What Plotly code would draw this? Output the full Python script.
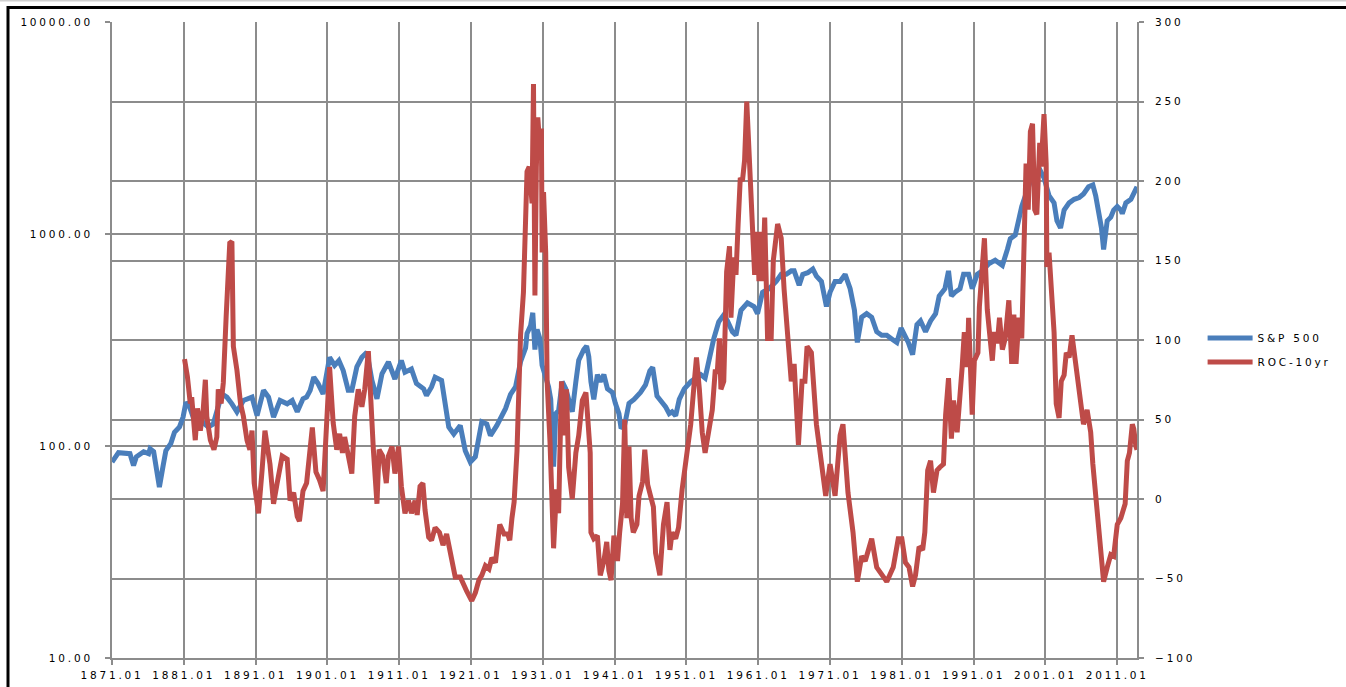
import plotly.graph_objects as go

# ---- data ----
sp_years = [1871.0, 1871.9, 1873.5, 1874.0, 1874.4, 1875.4, 1876.1, 1876.3, 1876.8, 1877.6,
            1878.1, 1878.5, 1879.2, 1879.7, 1880.4, 1880.9, 1881.3, 1881.8, 1882.3, 1883.3,
            1884.4, 1885.1, 1886.3, 1887.0, 1887.7, 1888.4, 1889.3, 1890.5, 1891.2, 1892.1,
            1892.8, 1893.5, 1894.4, 1895.4, 1896.1, 1896.8, 1897.6, 1898.1, 1898.6, 1899.1,
            1899.7, 1900.4, 1901.3, 1902.0, 1902.6, 1903.2, 1903.9, 1904.4, 1905.1, 1905.8,
            1906.5, 1907.2, 1907.9, 1908.6, 1909.5, 1910.4, 1911.3, 1911.8, 1912.7, 1913.4,
            1914.4, 1914.8, 1915.5, 1916.0, 1916.9, 1917.9, 1918.6, 1919.5, 1920.2, 1920.9,
            1921.6, 1922.5, 1923.2, 1923.7, 1924.6, 1925.1, 1925.8, 1926.5, 1927.2, 1927.9,
            1928.6, 1928.8, 1929.3, 1929.6, 1929.9, 1930.2, 1930.6, 1930.9, 1931.4, 1931.8,
            1932.1, 1932.5, 1932.8, 1933.2, 1933.7, 1934.2, 1934.6, 1935.1, 1935.6, 1936.0,
            1936.7, 1937.1, 1937.4, 1937.7, 1938.1, 1938.6, 1939.0, 1939.5, 1940.0, 1940.7,
            1941.1, 1941.6, 1941.9, 1942.4, 1943.0, 1943.7, 1944.6, 1945.3, 1945.9, 1946.3,
            1946.6, 1946.9, 1947.7, 1948.1, 1948.6, 1949.0, 1949.5, 1950.0, 1950.7, 1951.6,
            1952.3, 1953.0, 1953.6, 1954.1, 1954.8, 1955.5, 1956.2, 1956.7, 1957.4, 1957.9,
            1958.6, 1959.5, 1960.4, 1960.9, 1961.6, 1962.5, 1963.5, 1964.2, 1964.9, 1965.6,
            1966.0, 1966.7, 1967.2, 1967.9, 1968.6, 1969.1, 1969.8, 1970.5, 1971.0, 1971.7,
            1972.4, 1973.1, 1973.8, 1974.4, 1974.8, 1975.4, 1976.1, 1976.8, 1977.5, 1978.2,
            1978.9, 1979.6, 1980.3, 1980.9, 1981.5, 1981.9, 1982.5, 1983.1, 1983.6, 1984.3,
            1985.0, 1985.7, 1986.2, 1986.6, 1987.0, 1987.5, 1987.9, 1988.4, 1989.1, 1989.6,
            1990.3, 1990.8, 1991.5, 1992.2, 1993.1, 1994.0, 1995.0, 1995.7, 1996.1, 1996.8,
            1997.3, 1997.7, 1998.2, 1998.9, 1999.6, 2000.3, 2000.8, 2001.5, 2002.2, 2002.6,
            2003.1, 2003.6, 2004.3, 2005.0, 2005.7, 2006.3, 2007.0, 2007.6, 2008.0, 2008.4,
            2008.8, 2009.1, 2009.6, 2010.1, 2010.5, 2011.0, 2011.5, 2011.7, 2012.2, 2012.9,
            2013.3, 2013.75]
sp_values = [84, 93, 92, 81, 89, 94, 92, 97, 94, 64,
             80, 95, 103, 116, 123, 137, 161, 153, 137, 132,
             123, 127, 176, 170, 158, 145, 164, 170, 139, 183,
             170, 137, 164, 158, 164, 145, 167, 170, 183, 211,
             197, 176, 262, 240, 253, 227, 183, 183, 236, 262,
             277, 204, 167, 219, 249, 207, 253, 223, 231, 197,
             186, 173, 190, 211, 204, 123, 114, 125, 95, 84,
             89, 130, 127, 112, 125, 134, 150, 175, 190, 250,
             290, 340, 370, 425, 285, 355, 320, 240, 214, 190,
             166, 80, 142, 147, 201, 186, 166, 145, 201, 254,
             285, 296, 264, 201, 166, 217, 201, 217, 186, 179,
             159, 142, 121, 126, 159, 166, 179, 194, 226, 235,
             201, 172, 159, 153, 142, 145, 139, 166, 186, 201,
             209, 217, 209, 254, 320, 385, 415, 390, 346, 333,
             437, 473, 455, 421, 531, 552, 597, 645, 645, 670,
             670, 574, 645, 657, 684, 633, 597, 455, 531, 597,
             597, 645, 552, 437, 308, 405, 421, 405, 346, 333,
             333, 320, 308, 360, 330, 308, 270, 374, 389, 346,
             389, 421, 510, 531, 552, 670, 510, 531, 552, 645,
             645, 552, 645, 670, 724, 753, 711, 846, 950, 988,
             1200, 1349, 1515, 1770, 1841, 1988, 1841, 1515, 1402, 1154,
             1068, 1297, 1402, 1458, 1486, 1545, 1671, 1703, 1515, 1297,
             1068, 846, 1154, 1200, 1297, 1349, 1297, 1247, 1402, 1458,
             1574, 1671]

roc_years = [1881.1, 1881.5, 1881.9, 1882.1, 1882.6, 1882.9, 1883.3, 1883.7, 1884.0, 1884.2,
             1884.7, 1885.2, 1885.6, 1885.8, 1886.2, 1886.5, 1886.9, 1887.4, 1887.7, 1887.9,
             1888.4, 1888.9, 1889.3, 1889.8, 1890.2, 1890.5, 1890.8, 1891.4, 1891.9, 1892.3,
             1893.0, 1893.5, 1894.0, 1894.7, 1895.4, 1895.8, 1896.3, 1896.8, 1897.1, 1897.6,
             1898.1, 1898.5, 1898.9, 1899.4, 1899.9, 1900.4, 1900.9, 1901.3, 1901.8, 1902.3,
             1902.7, 1903.1, 1903.4, 1903.9, 1904.4, 1904.8, 1905.3, 1905.8, 1906.2, 1906.7,
             1907.0, 1907.4, 1907.9, 1908.2, 1908.7, 1909.2, 1909.5, 1910.0, 1910.4, 1910.9,
             1911.3, 1911.8, 1912.3, 1912.7, 1913.2, 1913.5, 1913.9, 1914.3, 1914.6, 1915.1,
             1915.5, 1916.0, 1916.6, 1917.1, 1917.6, 1918.3, 1918.8, 1919.5, 1920.0, 1920.4,
             1921.1, 1921.6, 1922.1, 1922.5, 1923.0, 1923.5, 1923.9, 1924.4, 1925.0, 1925.6,
             1926.1, 1926.4, 1926.7, 1927.0, 1927.4, 1927.9, 1928.3, 1928.6, 1928.8, 1929.1,
             1929.5, 1929.7, 1929.8, 1929.9, 1930.1, 1930.3, 1930.6, 1930.8, 1930.9, 1931.1,
             1931.4, 1931.6, 1932.0, 1932.3, 1932.5, 1932.9, 1933.2, 1933.6, 1933.9, 1934.3,
             1934.6, 1935.1, 1935.6, 1936.0, 1936.5, 1937.0, 1937.3, 1937.6, 1937.7, 1938.1,
             1938.6, 1939.0, 1939.5, 1939.9, 1940.2, 1940.5, 1940.9, 1941.4, 1941.7, 1942.1,
             1942.4, 1942.7, 1943.0, 1943.3, 1943.6, 1944.1, 1944.4, 1944.9, 1945.2, 1945.6,
             1946.0, 1946.4, 1946.7, 1947.0, 1947.3, 1947.8, 1948.3, 1948.7, 1949.0, 1949.5,
             1949.9, 1950.4, 1951.1, 1951.6, 1952.1, 1952.4, 1952.8, 1953.2, 1953.6, 1954.2,
             1954.6, 1955.0, 1955.3, 1955.6, 1955.8, 1956.2, 1956.6, 1957.0, 1957.2, 1957.6,
             1957.9, 1958.2, 1958.5, 1958.8, 1959.1, 1959.4, 1959.9, 1960.2, 1960.5, 1960.9,
             1961.1, 1961.4, 1961.6, 1961.9, 1962.3, 1962.8, 1963.1, 1963.7, 1964.2, 1964.6,
             1965.2, 1965.6, 1966.0, 1966.3, 1966.6, 1967.1, 1967.5, 1967.8, 1968.4, 1969.1,
             1969.8, 1970.4, 1971.0, 1971.7, 1972.4, 1972.8, 1973.5, 1974.2, 1974.8, 1975.4,
             1975.9, 1976.8, 1977.5, 1978.4, 1978.9, 1979.8, 1980.5, 1981.0, 1981.5, 1982.0,
             1982.5, 1982.9, 1983.4, 1983.9, 1984.2, 1984.6, 1985.0, 1985.4, 1985.9, 1986.3,
             1986.8, 1987.1, 1987.5, 1987.9, 1988.2, 1988.7, 1989.0, 1989.4, 1989.7, 1990.1,
             1990.3, 1990.5, 1990.8, 1991.1, 1991.6, 1991.8, 1992.2, 1992.5, 1992.9, 1993.2,
             1993.6, 1993.9, 1994.3, 1994.6, 1995.0, 1995.4, 1995.9, 1996.3, 1996.6, 1996.9,
             1997.3, 1997.7, 1998.0, 1998.3, 1998.6, 1998.9, 1999.2, 1999.5, 1999.8, 2000.2,
             2000.4, 2000.8, 2001.1, 2001.2, 2001.5, 2001.8, 2002.2, 2002.5, 2002.9, 2003.2,
             2003.6, 2003.9, 2004.3, 2004.7, 2005.1, 2005.6, 2006.0, 2006.3, 2006.8, 2007.3,
             2007.6, 2008.0, 2008.4, 2008.8, 2009.1, 2009.6, 2010.1, 2010.5, 2011.0, 2011.5,
             2012.1, 2012.4, 2012.7, 2013.1, 2013.3, 2013.6, 2013.75]
roc_values = [88, 77, 60, 64, 37, 57, 43, 56, 75, 52,
              37, 31, 39, 69, 60, 73, 115, 161, 162, 96,
              81, 60, 52, 37, 31, 43, 10, -9, 18, 43,
              22, -3, 10, 27, 25, -1, 4, -11, -14, 5,
              10, 25, 45, 17, 12, 5, 58, 83, 48, 31,
              41, 29, 39, 27, 16, 52, 69, 58, 69, 93,
              58, 31, -3, 31, 27, 10, 27, 33, 16, 33,
              8, -9, -1, -9, -1, -10, 8, 10, -7, -24,
              -26, -18, -21, -29, -22, -36, -49, -49, -55, -58,
              -64, -59, -51, -48, -42, -44, -37, -40, -16, -22,
              -22, -26, -12, -2, 30, 103, 130, 170, 206, 209,
              186, 261, 209, 128, 209, 240, 220, 233, 155, 193,
              155, 74, 36, 6, -31, 6, -9, 74, 40, 69,
              20, 0, 29, 40, 62, 67, 51, 29, -21, -25,
              -23, -48, -39, -27, -45, -51, -23, -39, -21, -3,
              50, -12, 33, -12, -21, -16, 2, 11, 31, 9,
              2, -5, -34, -43, -48, -16, -2, -32, -21, -25,
              -18, 6, 27, 47, 74, 89, 69, 42, 29, 44,
              56, 80, 80, 101, 69, 74, 143, 159, 114, 152,
              141, 173, 202, 200, 213, 250, 197, 164, 141, 168,
              137, 168, 137, 177, 101, 101, 150, 173, 164, 132,
              101, 74, 85, 51, 34, 74, 74, 96, 92, 47,
              24, 2, 22, 2, 40, 47, 4, -21, -52, -36,
              -39, -25, -43, -48, -52, -43, -25, -25, -40, -43,
              -55, -48, -30, -32, -21, 18, 24, 4, 18, 20,
              22, 53, 76, 38, 62, 42, 65, 83, 105, 83,
              114, 87, 53, 87, 92, 121, 150, 164, 119, 101,
              87, 105, 98, 114, 94, 101, 125, 85, 116, 85,
              114, 101, 150, 211, 182, 231, 236, 182, 179, 224,
              209, 242, 211, 146, 155, 130, 105, 60, 51, 74,
              78, 92, 89, 103, 89, 67, 58, 47, 56, 42,
              22, 0, -16, -43, -52, -43, -35, -36, -16, -12,
              -3, 24, 29, 47, 44, 33, 31]

x_tick_years = [1871, 1881, 1891, 1901, 1911, 1921, 1931, 1941, 1951, 1961, 1971, 1981, 1991, 2001, 2011]
x_tick_labels = [f"{y}.01" for y in x_tick_years]
left_ticks = [10, 100, 1000, 10000]
left_tick_labels = ["10.00", "100.00", "1000.00", "10000.00"]
right_ticks = [-100, -50, 0, 50, 100, 150, 200, 250, 300]

BLUE = "#4a7ebb"
RED = "#be4b48"
GRID = "#8c8c8c"
FONT = dict(family="DejaVu Sans", size=10.5, color="#000000")

fig = go.Figure()
fig.add_trace(go.Scatter(x=sp_years, y=sp_values, name="S&P 500", mode="lines",
                         legendgroup="a",
                         line=dict(color=BLUE, width=5), yaxis="y"))
fig.add_trace(go.Scatter(x=roc_years, y=roc_values, name="ROC-10yr", mode="lines",
                         legendgroup="b",
                         line=dict(color=RED, width=5), yaxis="y2"))

axis_common = dict(showgrid=True, gridcolor=GRID, gridwidth=2,
                   showline=True, linecolor=GRID, linewidth=2,
                   ticks="outside", ticklen=5, tickcolor=GRID, tickwidth=2,
                   zeroline=False, tickfont=FONT, automargin=False)

fig.update_layout(
    width=1346, height=687, autosize=False,
    margin=dict(l=112, r=209, t=22, b=29, pad=0),
    paper_bgcolor="white", plot_bgcolor="white",
    font=FONT,
    showlegend=True,
    legend=dict(x=1.064, y=0.526, xanchor="left", yanchor="top",
                bgcolor="rgba(0,0,0,0)", font=FONT, itemwidth=45,
                traceorder="grouped", tracegroupgap=5),
    xaxis=dict(range=[1871, 2013.75], tickvals=x_tick_years, ticktext=x_tick_labels,
               ticklabelstandoff=1, **axis_common),
    yaxis=dict(type="log", range=[1, 4], tickvals=left_ticks, ticktext=left_tick_labels,
               ticklabelstandoff=10, **axis_common),
    yaxis2=dict(overlaying="y", side="right", range=[-100, 300], tickvals=right_ticks,
                ticklabelstandoff=9, **axis_common),
    shapes=[
        dict(type="line", xref="paper", yref="paper", x0=-0.2, x1=1.3,
             y0=(658 - 0.5) / 636, y1=(658 - 0.5) / 636,
             line=dict(color="#d0d0d0", width=2)),
        dict(type="rect", xref="paper", yref="paper",
             x0=(8 - 112) / 1025, x1=1.4, y0=-0.3, y1=(658 - 7.5) / 636,
             line=dict(color="black", width=3), fillcolor="rgba(0,0,0,0)"),
    ],
)

post = """
document.body.style.margin = '0';
document.body.style.overflow = 'hidden';
var gd = document.getElementById('{plot_id}');
function spaceOut(sel, ls, mode) {
  gd.querySelectorAll(sel).forEach(function(t) {
    try {
      var b0 = t.getBBox();
      t.style.letterSpacing = ls;
      var b1 = t.getBBox();
      var shift = 0;
      if (mode === 'middle') shift = (b0.x + b0.width / 2) - (b1.x + b1.width / 2);
      else if (mode === 'end') shift = (b0.x + b0.width) - (b1.x + b1.width);
      else shift = b0.x - b1.x;
      t.setAttribute('dx', shift);
    } catch (e) {}
  });
}
spaceOut('.xtick text', '2.8px', 'middle');
spaceOut('.ytick text', '2.8px', 'end');
spaceOut('.y2tick text', '2.8px', 'start');
spaceOut('.legendtext', '2.8px', 'start');
gd.querySelectorAll('.legend [clip-path]').forEach(function(e){ e.removeAttribute('clip-path'); });
"""

fig.write_html("out.html", post_script=post, config={"displayModeBar": False})
